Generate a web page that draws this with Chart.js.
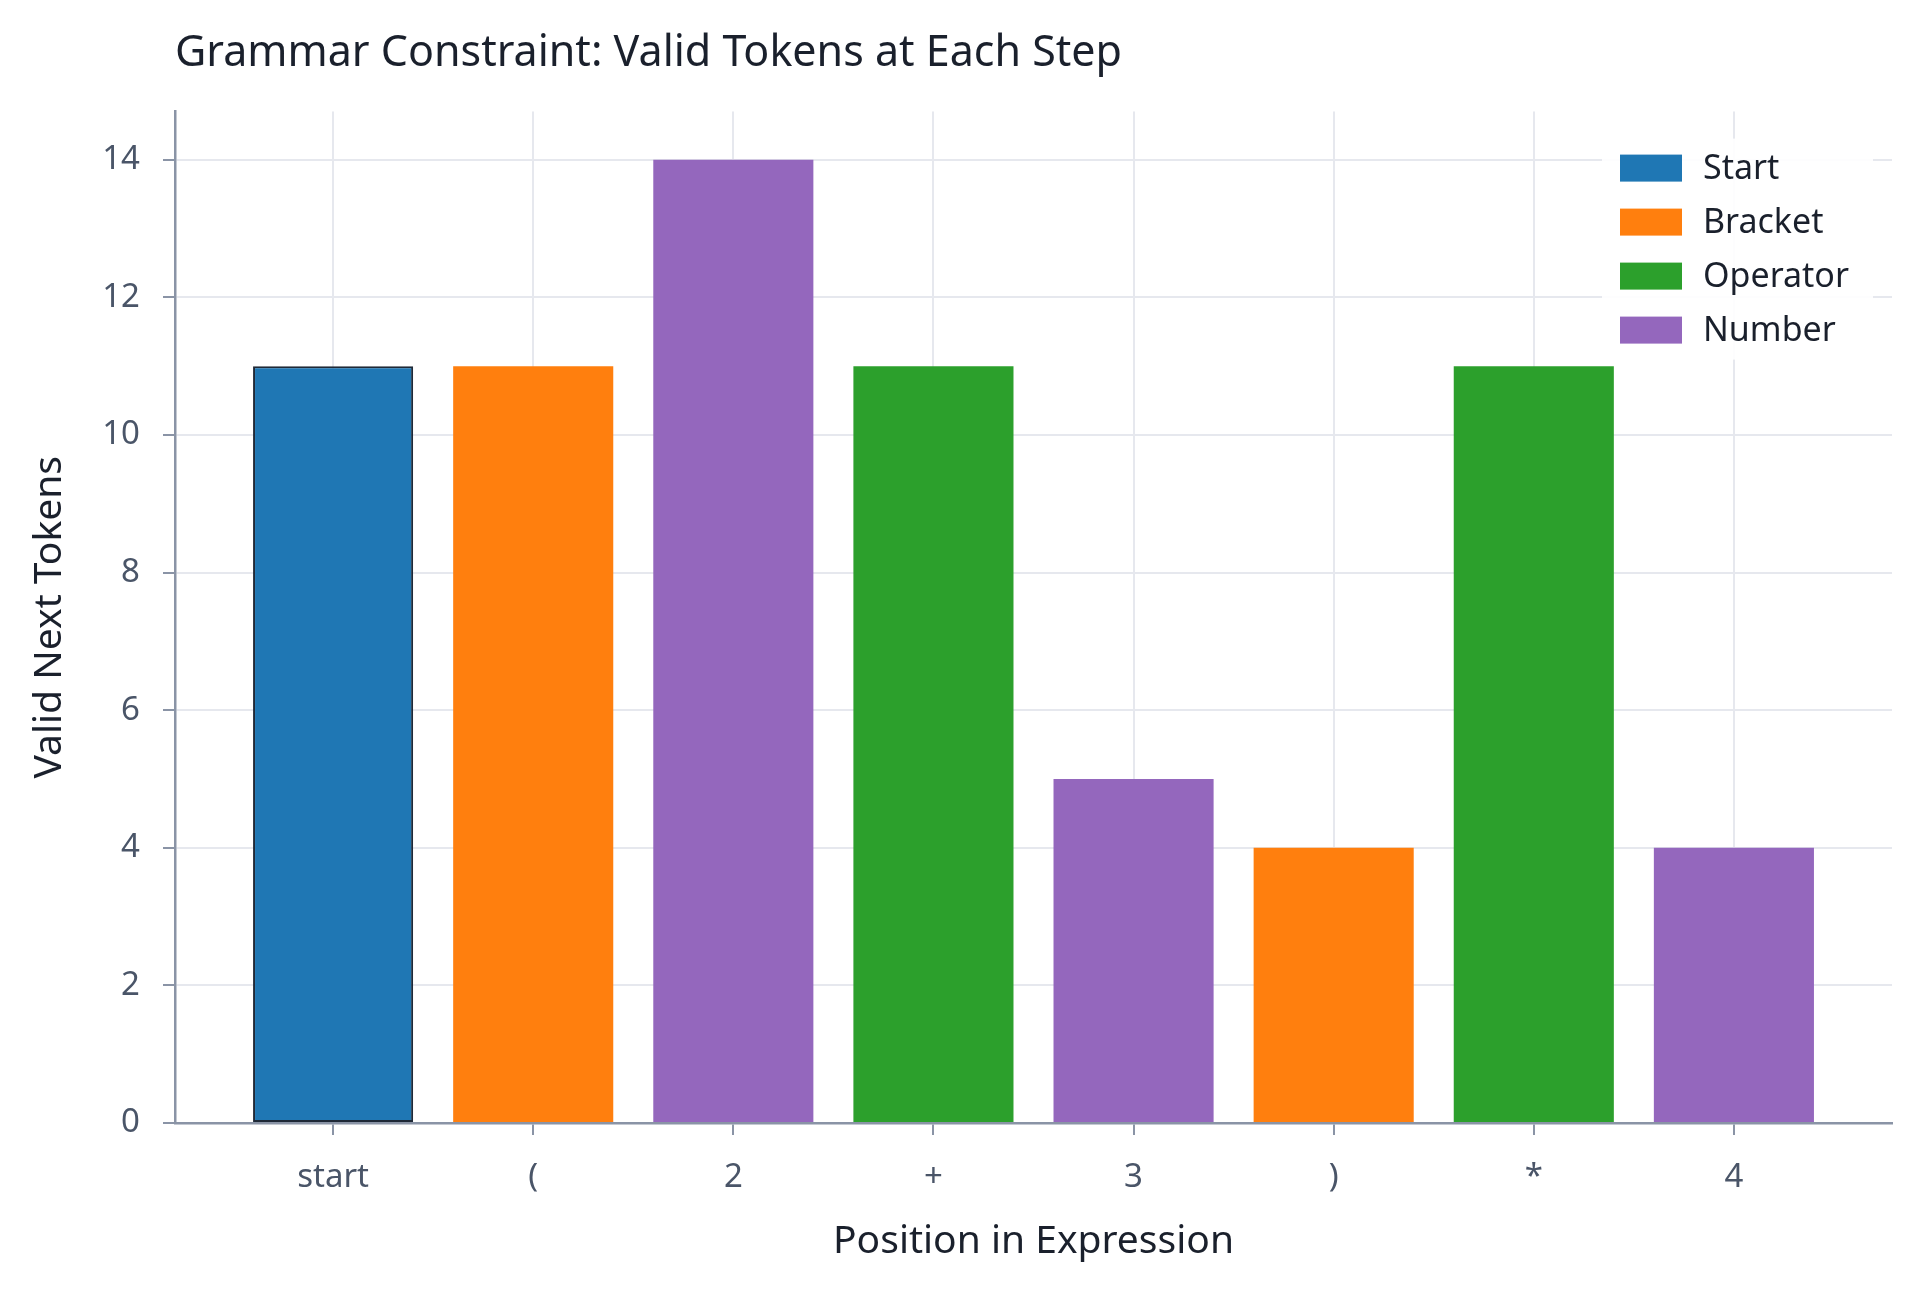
<!DOCTYPE html>
<html>
<head>
<meta charset="utf-8">
<script src="https://cdn.jsdelivr.net/npm/chart.js@4.4.1/dist/chart.umd.min.js"></script>
<style>
  html, body { margin: 0; padding: 0; background: #fff; }
  #wrap { width: 1920px; height: 1292px; }
</style>
</head>
<body>
<div id="wrap"><canvas id="myChart"></canvas></div>
<script>
// data
const positions = ['start', '(', '2', '+', '3', ')', '*', '4'];
const validTokens = [11, 11, 14, 11, 5, 4, 11, 4];
const tokenKinds = ['Start', 'Bracket', 'Number', 'Operator', 'Number', 'Bracket', 'Operator', 'Number'];
const legendKinds = ['Start', 'Bracket', 'Operator', 'Number'];
const yTicks = [0, 2, 4, 6, 8, 10, 12, 14];

const kindColors = {
  Start: '#1f77b4',
  Bracket: '#ff7f0e',
  Operator: '#2ca02c',
  Number: '#9467bd'
};

const FONT = "'Noto Sans', 'DejaVu Sans', sans-serif";
const textDark = '#1a202c';
const textGray = '#4a5568';
const axisGray = '#8a94a6';
const gridGray = '#e6e8ee';

// legend drawn inside the plot, top right
const insideLegend = {
  id: 'insideLegend',
  afterDatasetsDraw(chart) {
    const { ctx, chartArea: { right, top } } = chart;
    ctx.save();
    ctx.fillStyle = 'rgba(255,255,255,0.9)';
    ctx.fillRect(right - 290, top + 27, 271, 221);
    ctx.font = '34px ' + FONT;
    ctx.textBaseline = 'middle';
    ctx.textAlign = 'left';
    legendKinds.forEach((kind, i) => {
      const cy = top + 56.5 + i * 54;
      ctx.fillStyle = kindColors[kind];
      ctx.fillRect(right - 272, cy - 13.5, 62, 27);
      ctx.fillStyle = textDark;
      ctx.fillText(kind, right - 189, cy + 1);
    });
    ctx.restore();
  }
};

const config = {
  type: 'bar',
  data: {
    datasets: [{
      label: 'Valid Next Tokens',
      data: validTokens.map((v, i) => ({ x: i, y: v })),
      backgroundColor: tokenKinds.map(k => kindColors[k]),
      borderColor: tokenKinds.map(k => k === 'Start' ? '#1f2937' : 'rgba(0,0,0,0)'),
      borderWidth: tokenKinds.map(k => k === 'Start' ? 2 : 0),
      borderSkipped: false,
      categoryPercentage: 1.0,
      barPercentage: 0.8
    }]
  },
  options: {
    responsive: true,
    maintainAspectRatio: false,
    devicePixelRatio: 1,
    animation: false,
    layout: { padding: { left: 0, right: 28, top: 0, bottom: 0 } },
    plugins: {
      legend: { display: false },
      tooltip: { enabled: false },
      title: {
        display: true,
        text: 'Grammar Constraint: Valid Tokens at Each Step',
        align: 'start',
        fullSize: false,
        color: textDark,
        font: { family: FONT, size: 43, weight: 'normal' },
        padding: { top: 28, bottom: 32 }
      }
    },
    scales: {
      x: {
        type: 'linear',
        offset: false,
        min: -0.79,
        max: 7.79,
        afterBuildTicks(scale) {
          scale.ticks = positions.map((p, i) => ({ value: i }));
        },
        afterFit(scale) { scale.height = 169; },
        ticks: {
          color: textGray,
          font: { family: FONT, size: 33 },
          padding: 23,
          maxRotation: 0,
          autoSkip: false,
          callback: (value) => positions[value]
        },
        grid: {
          offset: false,
          color: gridGray,
          lineWidth: 2,
          tickColor: axisGray,
          tickLength: 12,
          tickWidth: 2
        },
        border: { color: axisGray, width: 2.5 },
        title: {
          display: true,
          text: 'Position in Expression',
          color: textDark,
          font: { family: FONT, size: 39 },
          padding: { top: 27, bottom: 27 }
        }
      },
      y: {
        min: 0,
        max: 14.7,
        afterBuildTicks(scale) {
          scale.ticks = yTicks.map(v => ({ value: v }));
        },
        afterFit(scale) { scale.width = 175; },
        ticks: {
          color: textGray,
          font: { family: FONT, size: 33 },
          padding: 23
        },
        grid: {
          color: gridGray,
          lineWidth: 2,
          tickColor: axisGray,
          tickLength: 12,
          tickWidth: 2
        },
        border: { color: axisGray, width: 2.5 },
        title: {
          display: true,
          text: 'Valid Next Tokens',
          color: textDark,
          font: { family: FONT, size: 39 },
          padding: { top: 26, bottom: 26 }
        }
      }
    }
  },
  plugins: [insideLegend]
};

const myChart = new Chart(document.getElementById('myChart'), config);
</script>
</body>
</html>
